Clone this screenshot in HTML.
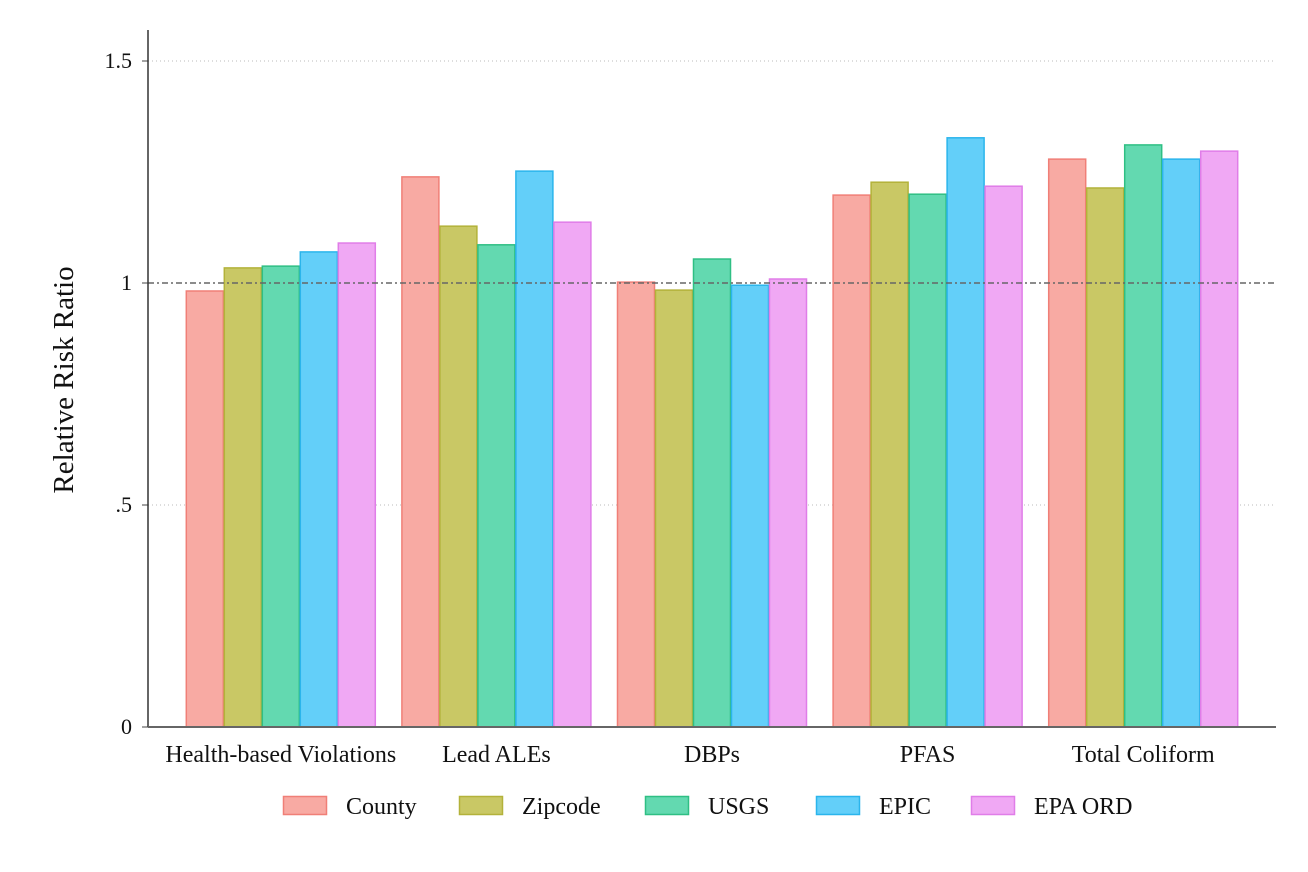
<!DOCTYPE html>
<html><head><meta charset="utf-8"><style>
html,body{margin:0;padding:0;background:#fff;}
svg{display:block;font-family:"Liberation Serif",serif;}
</style></head><body>
<svg id="chart" width="1308" height="872"></svg>
<script>
const categories=["Health-based Violations","Lead ALEs","DBPs","PFAS","Total Coliform"];
const seriesNames=["County","Zipcode","USGS","EPIC","EPA ORD"];
const county=[0.982,1.239,1.002,1.198,1.279];
const zipcode=[1.034,1.128,0.984,1.227,1.214];
const usgs=[1.038,1.086,1.054,1.200,1.311];
const epic=[1.070,1.252,0.995,1.327,1.279];
const epaord=[1.090,1.137,1.009,1.218,1.297];
const yTicks=[0,0.5,1,1.5];
const yTickLabels=["0",".5","1","1.5"];
const series=[county,zipcode,usgs,epic,epaord];
const fills=["#f8aaa3","#c9c865","#63d9b0","#63cff9","#f0a8f4"];
const strokes=["#f07f77","#b3b23a","#2fbf84","#2bb5ec","#e07de8"];
const NS="http://www.w3.org/2000/svg";
const svg=document.getElementById('chart');
function mk(t,a,p){const e=document.createElementNS(NS,t);for(const k in a)e.setAttribute(k,a[k]);(p||svg).appendChild(e);return e;}
const y=v=>727-v*444;
const x0=148,x1=1276,gw=215.6,gStart=173;
const gc=i=>gStart+gw*(i+0.5);
const bw=38;
yTicks.forEach((t,i)=>{
  if(t!==0&&t!==1){const g=mk('line',{x1:x0,x2:x1,y1:y(t),y2:y(t),stroke:'#bbb','stroke-dasharray':'1,3'});
  }
  const tk=mk('line',{x1:x0-6,x2:x0,y1:y(t),y2:y(t),stroke:'#444'});
  
  const tl=mk('text',{x:x0-16,y:y(t)+7,'text-anchor':'end','font-size':'22',fill:'#111'});
  tl.textContent=yTickLabels[i];
  
});
series.forEach((s,si)=>{
  s.forEach((v,ci)=>{
    const bx=gc(ci)-2.5*bw+si*bw;
    const r=mk('rect',{x:bx+0.5,y:y(v),width:bw-1,height:727-y(v),fill:fills[si],stroke:strokes[si],'stroke-width':1.5});
    
    
  });
});
const rl=mk('line',{x1:x0,x2:x1,y1:y(1),y2:y(1),stroke:'#666','stroke-width':1.5,'stroke-dasharray':'6,3,2,3'});

const ya=mk('line',{x1:x0,x2:x0,y1:30,y2:727,stroke:'#333','stroke-width':1.5});

const xa=mk('line',{x1:x0,x2:x1,y1:727,y2:727,stroke:'#666','stroke-width':2});

categories.forEach((c,i)=>{
  const t=mk('text',{x:gc(i),y:762,'text-anchor':'middle','font-size':'24',fill:'#111'});
  t.textContent=c;
  
});
const yt=mk('text',{x:0,y:0,transform:'translate(73,380) rotate(-90)','text-anchor':'middle','font-size':'29',fill:'#111'});
yt.textContent='Relative Risk Ratio';

const lx=[283,459,645,816,971];
seriesNames.forEach((n,i)=>{
  const g=mk('g',{});
  
  mk('rect',{x:lx[i]+0.5,y:796.5,width:43,height:18,fill:fills[i],stroke:strokes[i],'stroke-width':1.5},g);
  const t=mk('text',{x:lx[i]+63,y:814,'font-size':'24',fill:'#111'},g);
  t.textContent=n;
});
</script>
</body></html>
